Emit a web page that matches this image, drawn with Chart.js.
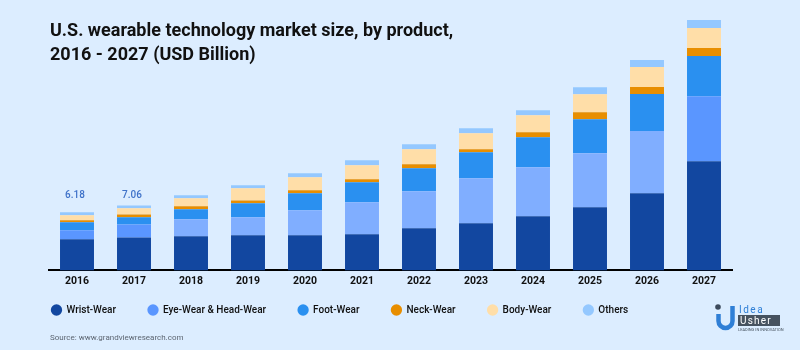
<!DOCTYPE html>
<html>
<head>
<meta charset="utf-8">
<script src="https://cdn.jsdelivr.net/npm/chart.js@4"></script>
<style>
    html, body { margin: 0; padding: 0; }
    body { width: 800px; height: 350px; overflow: hidden; background: #dcedff; font-family: Roboto, sans-serif; position: relative; }
    #title { position: absolute; left: 50px; top: 18px; margin: 0; font-size: 18px; line-height: 23.5px; font-weight: 700; color: #111; }
    #source { position: absolute; left: 50px; top: 332px; font-size: 8px; line-height: 12px; color: #5d6672; }
    #chart { position: absolute; left: 0; top: 0; }
    #logo { position: absolute; left: 710px; top: 298px; }
</style>
</head>
<body>
<canvas id="chart" width="800" height="350"></canvas>
<h1 id="title">U.S. wearable technology market size, by product,<br>2016 - 2027 (USD Billion)</h1>
<div id="source">Source: www.grandviewresearch.com</div>
<svg id="logo" width="80" height="40" viewBox="0 0 80 40">
    <circle cx="8" cy="9" r="2.8" fill="#3c4a5c"/>
    <path d="M8.5 16 V23 a7 7 0 0 0 14 0 V8" fill="none" stroke="#2f7fd6" stroke-width="4.5"/>
    <text x="29" y="15" font-family="Roboto" font-size="10" letter-spacing="1.5" fill="#2f7fd6">Idea</text>
    <rect x="28" y="17" width="42" height="11" fill="#46525f"/>
    <text x="30" y="26" font-family="Roboto" font-size="10" letter-spacing="1.2" fill="#fff">Usher</text>
    <text x="28" y="33" font-family="Roboto" font-size="4" fill="#46525f">LEADING IN INNOVATION</text>
</svg>
<script>
const years = ['2016', '2017', '2018', '2019', '2020', '2021', '2022', '2023', '2024', '2025', '2026', '2027'];
const wristWear = [3.35, 3.56, 3.67, 3.78, 3.78, 3.89, 4.54, 5.08, 5.83, 6.80, 8.32, 11.77];
const eyeWear = [0.97, 1.40, 1.84, 1.94, 2.70, 3.46, 4.00, 4.86, 5.29, 5.83, 6.70, 7.02];
const footWear = [0.86, 0.76, 1.08, 1.51, 1.84, 2.16, 2.48, 2.81, 3.24, 3.67, 4.00, 4.32];
const neckWear = [0.22, 0.32, 0.32, 0.32, 0.32, 0.32, 0.43, 0.32, 0.54, 0.76, 0.76, 0.86];
const bodyWear = [0.54, 0.65, 0.86, 1.30, 1.40, 1.51, 1.62, 1.73, 1.84, 1.94, 2.16, 2.16];
const others = [0.32, 0.32, 0.32, 0.32, 0.43, 0.54, 0.54, 0.54, 0.54, 0.76, 0.76, 0.86];
const totalLabels = ['6.18', '7.06'];

// the eye-wear segment is a darker blue on 2016, 2017 and 2027 only
const eyeColors = ['#5a96ff', '#5a96ff', '#80aeff', '#80aeff', '#80aeff', '#80aeff', '#80aeff', '#80aeff', '#80aeff', '#80aeff', '#80aeff', '#5a96ff'];

// Writes the two totals above the first bars, a little left of their centres
const totalsPlugin = {
    id: 'totals',
    afterDatasetsDraw(chart) {
        const ctx = chart.ctx;
        ctx.save();
        ctx.font = '10px "Roboto Medium", Roboto';
        ctx.fillStyle = '#3f72c9';
        ctx.textAlign = 'center';
        ctx.textBaseline = 'middle';
        totalLabels.forEach(function(label, i) {
            ctx.fillText(label, chart.scales.x.getPixelForValue(i) - 2, chart.scales.y.getPixelForValue(8.1));
        });
        ctx.restore();
    }
};

// The legend starts under the title, not one padding in from the plot edge
const legendPlacePlugin = {
    id: 'legendPlace',
    beforeDraw(chart) {
        chart.legend.left = 19.5;
        chart.legend.top = 273;
    }
};

new Chart(document.getElementById('chart').getContext('2d'), {
    type: 'bar',
    data: {
        labels: years,
        datasets: [
            { label: 'Wrist-Wear', data: wristWear, backgroundColor: '#1247a0' },
            { label: 'Eye-Wear & Head-Wear', data: eyeWear, backgroundColor: eyeColors },
            { label: 'Foot-Wear', data: footWear, backgroundColor: '#2a90f0' },
            { label: 'Neck-Wear', data: neckWear, backgroundColor: '#e88e00' },
            { label: 'Body-Wear', data: bodyWear, backgroundColor: '#ffdea8' },
            { label: 'Others', data: others, backgroundColor: '#94c8ff' }
        ]
    },
    plugins: [totalsPlugin, legendPlacePlugin],
    options: {
        responsive: false,
        animation: false,
        layout: { padding: { top: 20, left: 48.5, right: 67.5, bottom: 5 } },
        datasets: { bar: { barPercentage: 0.596, categoryPercentage: 1, borderWidth: 0 } },
        plugins: {
            tooltip: { enabled: false },
            legend: {
                position: 'bottom',
                align: 'start',
                labels: {
                    usePointStyle: true,
                    pointStyle: 'circle',
                    boxHeight: 8,
                    padding: 32,
                    color: '#111',
                    font: { family: '"Roboto Medium", Roboto', size: 10 }
                }
            }
        },
        scales: {
            x: {
                stacked: true,
                grid: { display: false, drawTicks: false },
                border: { color: '#000', width: 2 },
                ticks: { color: '#111', padding: 5, maxRotation: 0, font: { family: 'Roboto', size: 10.5, weight: '700' } }
            },
            y: { stacked: true, display: false, min: 0, max: 27 }
        }
    }
});
</script>
</body>
</html>
